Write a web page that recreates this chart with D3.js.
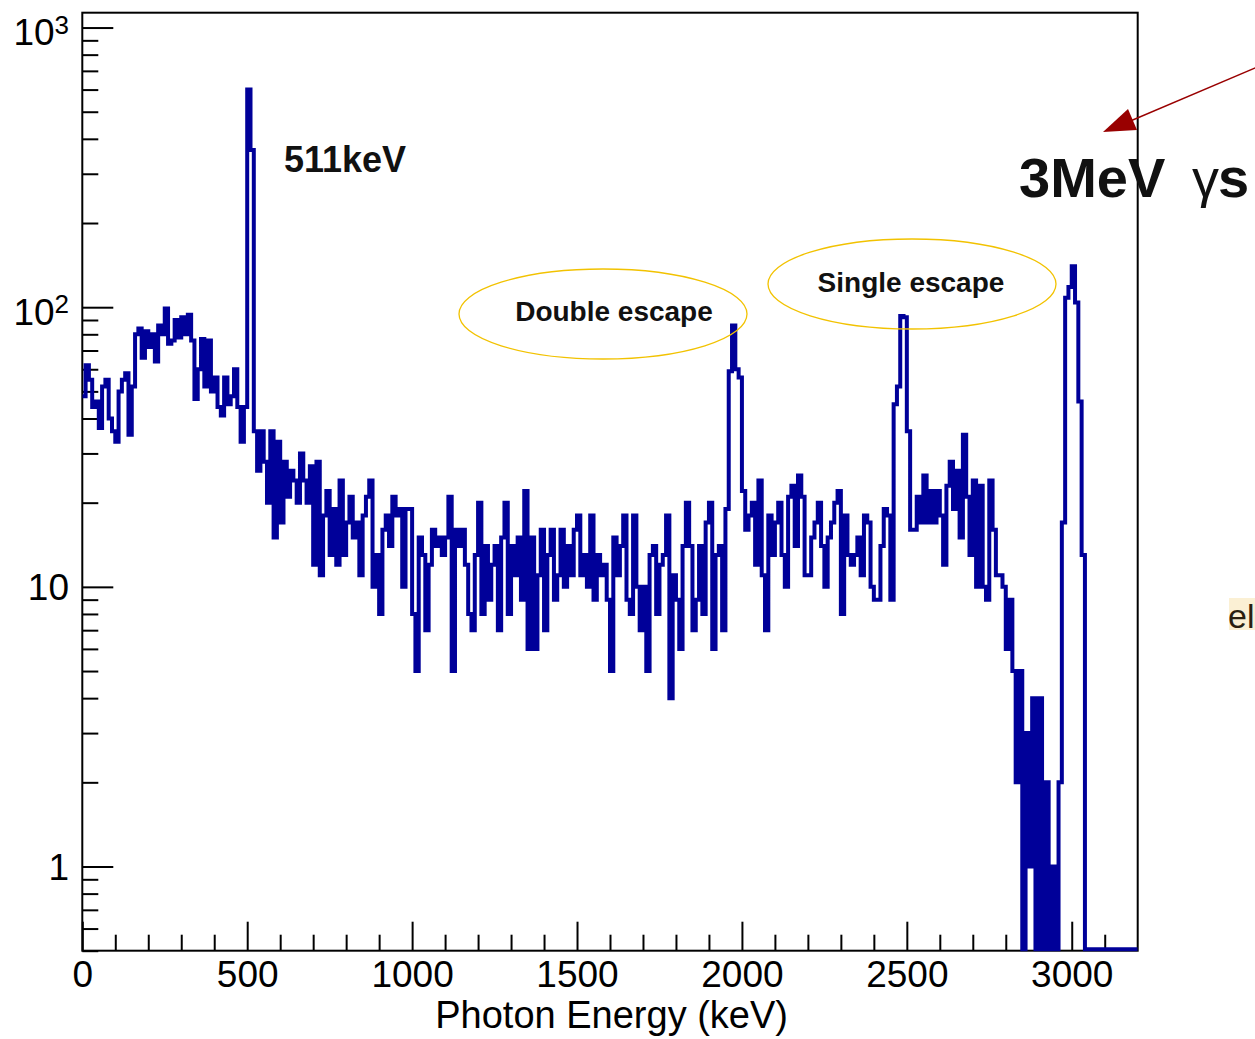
<!DOCTYPE html>
<html>
<head>
<meta charset="utf-8">
<script src="https://cdn.jsdelivr.net/npm/d3@7"></script>
<style>
  html, body { margin: 0; padding: 0; background: #fff; }
  svg { display: block; }
  text { font-family: "Liberation Sans", Arial, Helvetica, sans-serif; }
</style>
</head>
<body>
<svg id="chart" width="1255" height="1039"></svg>
<script>
// ---------------- data ----------------
const binWidth = 10;              // keV per bin
const xDomain = [0, 3200];        // keV
const yDomain = [0.5, 1130];      // counts (log)
// counts per 10 keV bin (bins 0..319)
const counts = [
  48, 62, 55, 44, 46, 37, 52, 55, 40, 36,
  33, 50, 55, 58, 35, 52, 80, 84, 66, 82,
  72, 80, 64, 86, 80, 99, 74, 76, 90, 78,
  92, 80, 94, 76, 47, 60, 77, 52, 76, 50,
  56, 44, 41, 56, 45, 48, 60, 44, 33, 44,
  600, 365, 36, 26, 36, 28, 20, 36, 15, 33,
  17, 28, 21, 26, 24, 20, 30, 24, 20, 27,
  12, 28, 11, 18, 22, 13, 19, 12, 24, 13,
  17, 21, 15, 17, 11, 18, 21, 24, 10, 13,
  8, 16, 18, 14, 21, 18, 19, 10, 19, 19,
  8, 5, 15, 13, 7, 12, 16, 14, 15, 13,
  15, 21, 5, 16, 14, 16, 12, 8, 7, 13,
  20, 8, 14, 9, 12, 14, 7, 15, 20, 8,
  14, 11, 15, 9, 22, 6, 15, 6, 11, 16,
  7, 13, 16, 9, 11, 16, 10, 14, 11, 16,
  18, 11, 13, 10, 18, 9, 13, 11, 12, 9,
  5, 15, 11, 14, 18, 9, 8, 18, 10, 7,
  10, 5, 13, 14, 8, 12, 13, 18, 4, 11,
  9, 6, 14, 20, 14, 7, 9, 14, 8, 17,
  20, 6, 13, 14, 7, 19, 59, 86, 60, 56,
  22, 16, 18, 20, 12, 24, 11, 7, 18, 13,
  17, 20, 13, 10, 21, 23, 14, 25, 21, 11,
  11, 15, 17, 20, 14, 10, 15, 17, 20, 22,
  8, 18, 13, 12, 13, 15, 11, 18, 17, 10,
  9, 9, 14, 19, 18, 9, 45, 52, 93, 92,
  36, 16, 16, 21, 17, 25, 17, 22, 17, 22,
  18, 12, 23, 28, 19, 26, 15, 35, 21, 13,
  24, 10, 23, 10, 9, 24, 16, 11, 11, 10,
  6, 9, 5, 2, 5, 0, 3, 1, 4, 0,
  4, 0, 2, 0, 1, 0, 2, 17, 108, 118,
  140, 104, 46, 13, 0, 0, 0, 0, 0, 0,
  0, 0, 0, 0, 0, 0, 0, 0, 0, 0
];
const xMajorTicks = [0, 500, 1000, 1500, 2000, 2500, 3000];
const xMajorLabels = ["0", "500", "1000", "1500", "2000", "2500", "3000"];
const xMinorTicks = [100,200,300,400,600,700,800,900,1100,1200,1300,1400,1600,1700,1800,1900,
                     2100,2200,2300,2400,2600,2700,2800,2900,3100];
const yMajorTicks = [1, 10, 100, 1000];
const yLabelBase = ["1", "10", "10", "10"];
const yLabelSup = ["", "", "2", "3"];
const yMinorTicks = [0.5,0.6,0.7,0.8,0.9, 2,3,4,5,6,7,8,9, 20,30,40,50,60,70,80,90, 200,300,400,500,600,700,800,900];
const xTitle = "Photon Energy (keV)";

// ---------------- layout ----------------
const L = 82.3, R = 1137.7, T = 12.7, B = 950.7;
const svg = d3.select("#chart");
const x = d3.scaleLinear().domain(xDomain).range([L, R]);
const y = d3.scaleLog().domain(yDomain).range([B, T]);

svg.append("rect").attr("width", 1255).attr("height", 1039).attr("fill", "#fff");

svg.append("defs").append("clipPath").attr("id", "plotclip")
  .append("rect").attr("x", L).attr("y", T).attr("width", R - L).attr("height", B - T + 1);

// ---------------- axes ----------------
const axStyle = g => {
  g.select(".domain").remove();
  g.selectAll(".tick line").attr("stroke", "#000").attr("stroke-width", 2);
};
// x minor
svg.append("g").attr("transform", `translate(0,${B})`)
  .call(d3.axisBottom(x).tickValues(xMinorTicks).tickSize(-16).tickFormat(""))
  .call(axStyle);
// x major
svg.append("g").attr("transform", `translate(0,${B})`)
  .call(d3.axisBottom(x).tickValues(xMajorTicks).tickSize(-29).tickPadding(10)
        .tickFormat((d, i) => xMajorLabels[i]))
  .call(axStyle)
  .call(g => g.selectAll(".tick text")
      .attr("font-size", 37).attr("fill", "#000")
      .attr("font-family", '"Liberation Sans", Arial, sans-serif'));
// y minor
svg.append("g").attr("transform", `translate(${L},0)`)
  .call(d3.axisLeft(y).tickValues(yMinorTicks).tickSize(-16).tickFormat(""))
  .call(axStyle);
// y major
svg.append("g").attr("transform", `translate(${L},0)`)
  .call(d3.axisLeft(y).tickValues(yMajorTicks).tickSize(-31).tickFormat(""))
  .call(axStyle);

// y labels (with superscripts)
yMajorTicks.forEach((v, i) => {
  const ty = y(v);
  const t = svg.append("text")
    .attr("text-anchor", "end")
    .attr("x", 69)
    .attr("font-size", 37)
    .attr("fill", "#000");
  if (yLabelSup[i]) {
    t.attr("y", ty + 17.5);
    t.append("tspan").text(yLabelBase[i]);
    t.append("tspan").attr("font-size", 26).attr("dy", -11.5).text(yLabelSup[i]);
  } else {
    t.attr("y", ty + 13).text(yLabelBase[i]);
  }
});

// frame
svg.append("rect")
  .attr("x", L).attr("y", T).attr("width", R - L).attr("height", B - T)
  .attr("fill", "none").attr("stroke", "#000").attr("stroke-width", 2);

// histogram as a step line (drawn over the frame, like ROOT)
const pts = counts.map((c, i) => [i * binWidth, Math.max(c, yDomain[0])]);
pts.push([counts.length * binWidth, Math.max(counts[counts.length - 1], yDomain[0])]);
const line = d3.line().x(d => x(d[0])).y(d => Math.min(y(d[1]), B - 1.4)).curve(d3.curveStepAfter);
svg.append("path")
  .attr("d", line(pts))
  .attr("clip-path", "url(#plotclip)")
  .attr("fill", "none")
  .attr("stroke", "#000099")
  .attr("stroke-width", 4)
  .attr("stroke-linejoin", "miter");

// x title
svg.append("text")
  .attr("x", 788).attr("y", 1028)
  .attr("text-anchor", "end")
  .attr("font-size", 38)
  .attr("fill", "#000")
  .text(xTitle);

// ---------------- annotations ----------------
svg.append("text")
  .attr("x", 284).attr("y", 172)
  .attr("font-size", 36).attr("font-weight", "bold").attr("fill", "#111")
  .text("511keV");

const gold = "#f2c200";
svg.append("ellipse").attr("cx", 603).attr("cy", 314).attr("rx", 144).attr("ry", 45)
  .attr("fill", "none").attr("stroke", gold).attr("stroke-width", 1.3);
svg.append("ellipse").attr("cx", 912).attr("cy", 284).attr("rx", 144).attr("ry", 45)
  .attr("fill", "none").attr("stroke", gold).attr("stroke-width", 1.3);

svg.append("text")
  .attr("x", 614).attr("y", 321).attr("text-anchor", "middle")
  .attr("font-size", 28).attr("font-weight", "bold").attr("fill", "#111")
  .text("Double escape");
svg.append("text")
  .attr("x", 911).attr("y", 292).attr("text-anchor", "middle")
  .attr("font-size", 28).attr("font-weight", "bold").attr("fill", "#111")
  .text("Single escape");

// 3MeV gammas label
svg.append("text")
  .attr("x", 1019).attr("y", 197)
  .attr("font-size", 56).attr("font-weight", "bold").attr("fill", "#111")
  .text("3MeV");
svg.append("text")
  .attr("x", 1192).attr("y", 197)
  .attr("font-size", 54).attr("fill", "#111")
  .attr("font-family", '"DejaVu Serif", "Liberation Serif", serif')
  .text("γ");
svg.append("text")
  .attr("x", 1218).attr("y", 197)
  .attr("font-size", 56).attr("font-weight", "bold").attr("fill", "#111")
  .text("s");

// red arrow
const arrowCol = "#990000";
svg.append("line")
  .attr("x1", 1262).attr("y1", 65).attr("x2", 1128).attr("y2", 122)
  .attr("stroke", arrowCol).attr("stroke-width", 1.4);
svg.append("polygon")
  .attr("points", "1103,132 1128,109 1137,130")
  .attr("fill", arrowCol);

// cropped text at right edge
svg.append("rect").attr("x", 1229).attr("y", 598).attr("width", 26).attr("height", 32)
  .attr("fill", "#fbf0d4");
svg.append("text")
  .attr("x", 1228).attr("y", 628)
  .attr("font-size", 34).attr("fill", "#2a1f10")
  .text("el");
</script>
</body>
</html>
